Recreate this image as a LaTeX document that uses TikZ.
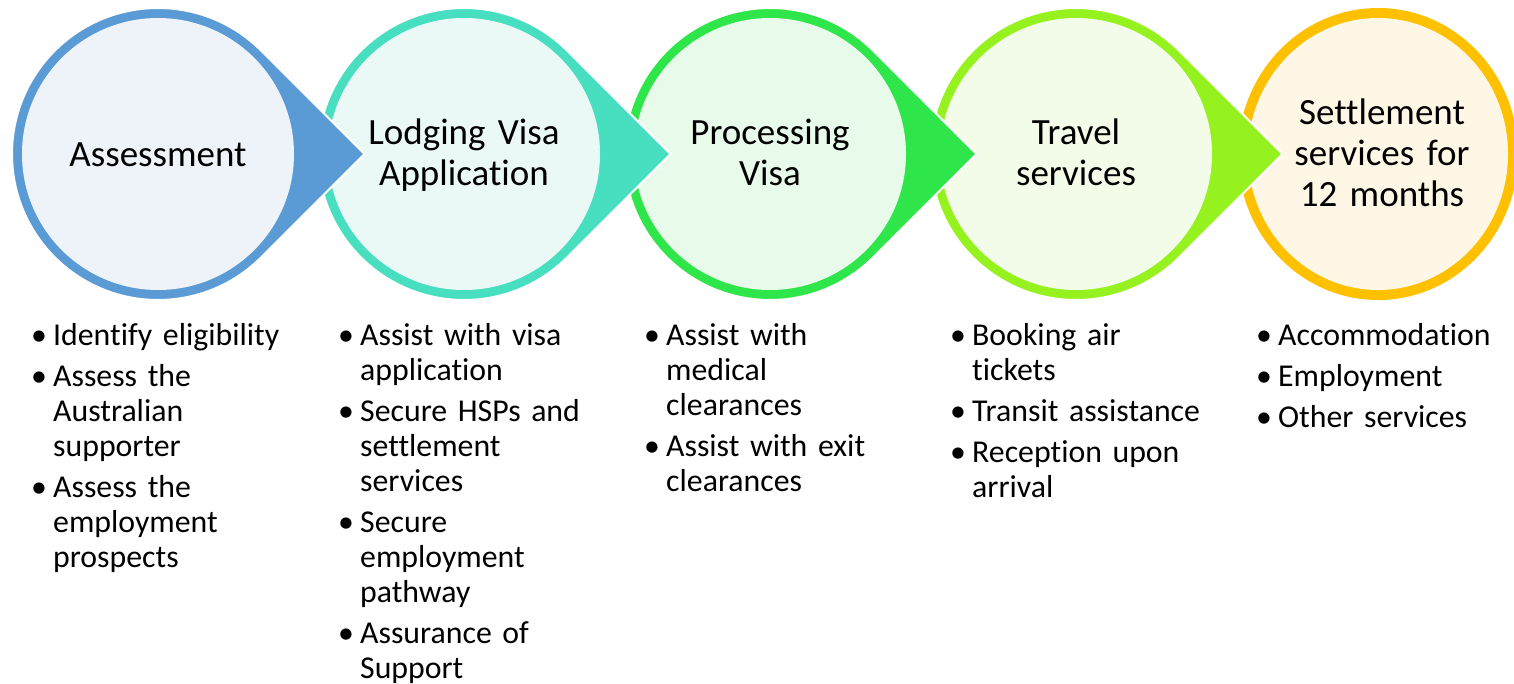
\documentclass[tikz,border=0pt]{standalone}
\usepackage{fontspec}
\setmainfont{Carlito}[Ligatures=NoCommon, WordSpace=0.75]
\definecolor{bluering}{HTML}{5B9BD5}
\definecolor{bluein}{HTML}{EEF3FA}
\definecolor{tealring}{HTML}{48DEC0}
\definecolor{tealin}{HTML}{EAF9F6}
\definecolor{greenring}{HTML}{2EE64A}
\definecolor{greenin}{HTML}{E8FAEA}
\definecolor{limering}{HTML}{95F21F}
\definecolor{limein}{HTML}{F3FCE8}
\definecolor{orring}{HTML}{FFC000}
\definecolor{orin}{HTML}{FFF7E5}
\newcommand\bu{\makebox[22pt][l]{•}}
\newcommand\ind{\hspace*{22pt}}
\newcommand\tdrop[3]{%
  \fill[#2, draw=white, line width=2pt] (#1,154) ++(45:146pt)
    arc[start angle=45, end angle=315, radius=146pt] -- (#1+206.5,154) -- cycle;
  \fill[#3] (#1,154) circle[radius=136pt];
}
\begin{document}
\begin{tikzpicture}[x=1pt,y=-1pt,
  ttl/.style={font=\fontsize{37}{41}\selectfont, text width=300pt, align=center, inner sep=0pt, anchor=base},
  lst/.style={font=\fontsize{31.8}{35}\selectfont, text width=280pt, align=left, inner sep=0pt, anchor=base west}]
\useasboundingbox[fill=white] (0,0) rectangle (1514,684);
% shapes, right to left so each tip lies over the next circle
\fill[orring] (1378,154) ellipse[x radius=140pt, y radius=146pt];
\fill[orin] (1378,154) ellipse[x radius=130pt, y radius=136pt];
\tdrop{1076}{limering}{limein}
\tdrop{770}{greenring}{greenin}
\tdrop{464}{tealring}{tealin}
\tdrop{158}{bluering}{bluein}
% titles
\node[ttl] (t1) at (158,167) {Assessment};
\node[ttl] (t2) at (464,145) {Lodging Visa\\Application};
\node[ttl] (t3) at (770,145) {Processing\\Visa};
\node[ttl] (t4) at (1076,145) {Travel\\services};
\node[ttl] (t5) at (1382,125) {Settlement\\services for\\12 months};
% lists
\node[lst] (l1) at (31,345) {\bu Identify eligibility\\[6pt]
  \bu Assess the\\ \ind Australian\\ \ind supporter\\[6pt]
  \bu Assess the\\ \ind employment\\ \ind prospects};
\node[lst] (l2) at (338,345) {\bu Assist with visa\\ \ind application\\[6pt]
  \bu Secure HSPs and\\ \ind settlement\\ \ind services\\[6pt]
  \bu Secure\\ \ind employment\\ \ind pathway\\[6pt]
  \bu Assurance of\\ \ind Support};
\node[lst] (l3) at (644,345) {\bu Assist with\\ \ind medical\\ \ind clearances\\[6pt]
  \bu Assist with exit\\ \ind clearances};
\node[lst] (l4) at (950,345) {\bu Booking air\\ \ind tickets\\[6pt]
  \bu Transit assistance\\[6pt]
  \bu Reception upon\\ \ind arrival};
\node[lst] (l5) at (1256,345) {\bu Accommodation\\[6pt]
  \bu Employment\\[6pt]
  \bu Other services};
\end{tikzpicture}
\end{document}
